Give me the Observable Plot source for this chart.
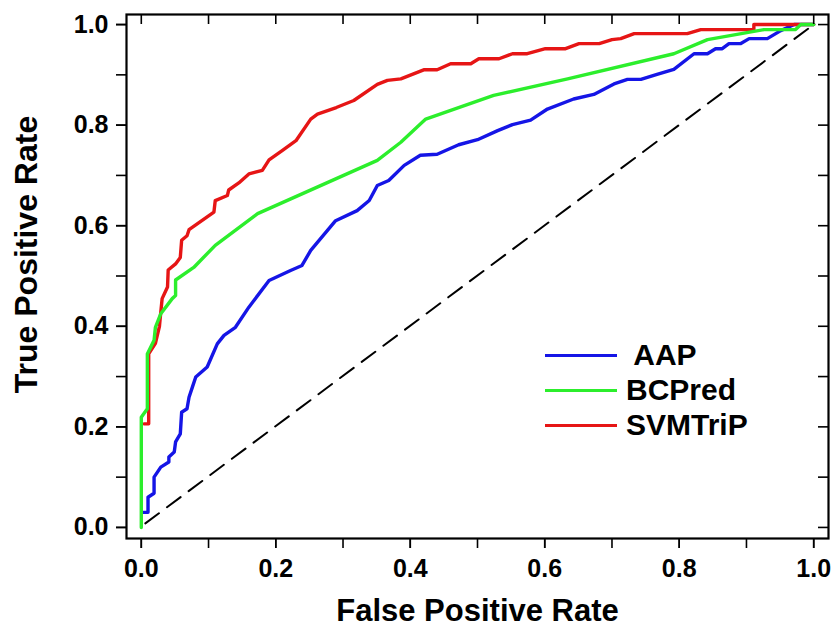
<!DOCTYPE html>
<html>
<head>
<meta charset="utf-8">
<script src="https://cdn.jsdelivr.net/npm/d3@7"></script>
<script src="https://cdn.jsdelivr.net/npm/@observablehq/plot@0.6"></script>
<style>
  body { margin: 0; background: #fff; }
  #chart { position: relative; width: 835px; height: 628px; font-family: "Liberation Sans", Arial, sans-serif; }
  #legend { position: absolute; left: 545px; top: 340px; }
  .row { position: absolute; left: 0; height: 30px; width: 260px; }
  .row .sw { position: absolute; left: 0; top: 13.5px; width: 72px; height: 3px; }
  .row .lb { position: absolute; left: 81px; top: 0; line-height: 30px; font-size: 30px; font-weight: bold; white-space: pre; color: #000; }
</style>
</head>
<body>
<div id="chart"></div>
<script>
// ---- data ----
const seriesNames = ["AAP", "BCPred", "SVMTriP"];
const legendLabels = [" AAP", "BCPred", "SVMTriP"];
const seriesColors = ["#1515e6", "#2cee2c", "#e61515"];

const aapFPR = [0.003,0.010,0.010,0.019,0.019,0.029,0.041,0.041,0.049,0.051,0.058,0.060,0.068,0.071,0.076,0.081,0.098,0.113,0.123,0.140,0.160,0.190,0.222,0.239,0.252,0.289,0.321,0.339,0.351,0.368,0.391,0.415,0.440,0.472,0.500,0.530,0.552,0.579,0.604,0.643,0.673,0.703,0.723,0.743,0.767,0.792,0.822,0.842,0.854,0.864,0.874,0.891,0.904,0.931,0.951,0.971,1.000];
const aapTPR = [0.030,0.030,0.060,0.068,0.100,0.120,0.130,0.140,0.150,0.170,0.186,0.229,0.236,0.259,0.279,0.299,0.319,0.365,0.382,0.398,0.438,0.491,0.511,0.521,0.551,0.610,0.630,0.650,0.680,0.690,0.720,0.740,0.742,0.761,0.771,0.789,0.801,0.810,0.832,0.852,0.861,0.882,0.891,0.891,0.901,0.911,0.942,0.942,0.952,0.952,0.962,0.962,0.972,0.972,0.988,1.000,1.000];

const bcpFPR = [0.000,0.000,0.009,0.009,0.019,0.021,0.029,0.046,0.051,0.051,0.078,0.110,0.173,0.351,0.386,0.423,0.524,0.634,0.792,0.842,0.926,0.973,0.981,1.000];
const bcpTPR = [0.000,0.219,0.236,0.345,0.372,0.398,0.425,0.455,0.461,0.492,0.517,0.561,0.624,0.730,0.766,0.812,0.859,0.892,0.942,0.970,0.990,0.990,1.000,1.000];

const svmFPR = [0.004,0.011,0.011,0.021,0.027,0.029,0.031,0.039,0.040,0.051,0.058,0.060,0.068,0.071,0.108,0.110,0.128,0.130,0.145,0.160,0.180,0.190,0.210,0.230,0.252,0.262,0.290,0.316,0.351,0.366,0.386,0.420,0.440,0.460,0.490,0.502,0.532,0.552,0.574,0.601,0.631,0.651,0.681,0.700,0.713,0.733,0.812,0.832,0.911,0.911,0.970,1.000];
const svmTPR = [0.206,0.206,0.345,0.366,0.400,0.428,0.455,0.478,0.512,0.524,0.537,0.571,0.580,0.592,0.627,0.650,0.660,0.671,0.685,0.703,0.710,0.731,0.750,0.769,0.812,0.822,0.835,0.849,0.881,0.889,0.892,0.910,0.910,0.922,0.922,0.932,0.932,0.942,0.942,0.952,0.952,0.962,0.962,0.970,0.972,0.982,0.982,0.990,0.990,1.000,1.000,1.000];

const diagFPR = [0.006, 1.0];
const diagTPR = [0.008, 1.0];

const tickValues = [0,0.1,0.2,0.3,0.4,0.5,0.6,0.7,0.8,0.9,1.0];
const labelValues = [0,0.2,0.4,0.6,0.8,1.0];
const tickLabels = ["0.0","0.2","0.4","0.6","0.8","1.0"];
const xTitle = "False Positive Rate";
const yTitle = "True Positive Rate";

// ---- build tables ----
const toRows = (xs, ys, name) => xs.map((x, i) => ({x, y: ys[i], name}));
const aap = toRows(aapFPR, aapTPR, seriesNames[0]);
const bcp = toRows(bcpFPR, bcpTPR, seriesNames[1]);
const svm = toRows(svmFPR, svmTPR, seriesNames[2]);
const diag = toRows(diagFPR, diagTPR, "chance");
const fmt = d => tickLabels[labelValues.findIndex(v => Math.abs(v - d) < 1e-9)];

const font = "Liberation Sans, Arial, sans-serif";
const chart = Plot.plot({
  width: 835,
  height: 628,
  marginLeft: 126,
  marginRight: 7,
  marginTop: 14,
  marginBottom: 90,
  style: {fontFamily: font, fontWeight: "bold", fontSize: "25px", color: "#000", background: "#fff", overflow: "visible"},
  x: {domain: [-0.022, 1.022]},
  y: {domain: [-0.022, 1.02]},
  marks: [
    Plot.line(diag, {x: "x", y: "y", stroke: "#000", strokeWidth: 2, strokeDasharray: "17,10"}),
    Plot.line(aap, {x: "x", y: "y", stroke: seriesColors[0], strokeWidth: 3.4, strokeLinejoin: "round"}),
    Plot.line(svm, {x: "x", y: "y", stroke: seriesColors[2], strokeWidth: 3.4, strokeLinejoin: "round"}),
    Plot.line(bcp, {x: "x", y: "y", stroke: seriesColors[1], strokeWidth: 3.4, strokeLinejoin: "round"}),
    Plot.axisX(tickValues, {tickSize: 10, tickPadding: 11, tickFormat: () => "", strokeWidth: 1.6, label: null}),
    Plot.axisX(labelValues, {tickSize: 10, tickPadding: 11, tickFormat: fmt, strokeWidth: 1.6, fontSize: 25, fontWeight: "bold", label: null}),
    Plot.axisY(tickValues, {tickSize: 10, tickPadding: 8, tickFormat: () => "", strokeWidth: 1.6, label: null}),
    Plot.axisY(labelValues, {tickSize: 10, tickPadding: 8, tickFormat: fmt, strokeWidth: 1.6, fontSize: 25, fontWeight: "bold", label: null}),
    Plot.tickX(tickValues, {x: d => d, insetBottom: 514, stroke: "#000", strokeWidth: 1.6}),
    Plot.tickY(tickValues, {y: d => d, insetLeft: 692, stroke: "#000", strokeWidth: 1.6}),
    Plot.frame({stroke: "#000", strokeWidth: 2.2}),
    Plot.text([xTitle], {text: d => d, frameAnchor: "bottom", dy: 82, lineAnchor: "bottom", textAnchor: "middle", fontSize: 31, fontWeight: "bold", fill: "#000"}),
    Plot.text([yTitle], {text: d => d, frameAnchor: "left", dx: -90, dy: -22, rotate: -90, lineAnchor: "bottom", textAnchor: "middle", fontSize: 32, fontWeight: "bold", fill: "#000"})
  ]
});
const host = document.getElementById("chart");
host.appendChild(chart);

// ---- legend ----
const legend = d3.select(host).append("div").attr("id", "legend");
seriesNames.forEach((name, i) => {
  const row = legend.append("div").attr("class", "row").style("top", (i * 35) + "px");
  row.append("div").attr("class", "sw").style("background", seriesColors[i]);
  row.append("div").attr("class", "lb").text(legendLabels[i]);
});
</script>
</body>
</html>
